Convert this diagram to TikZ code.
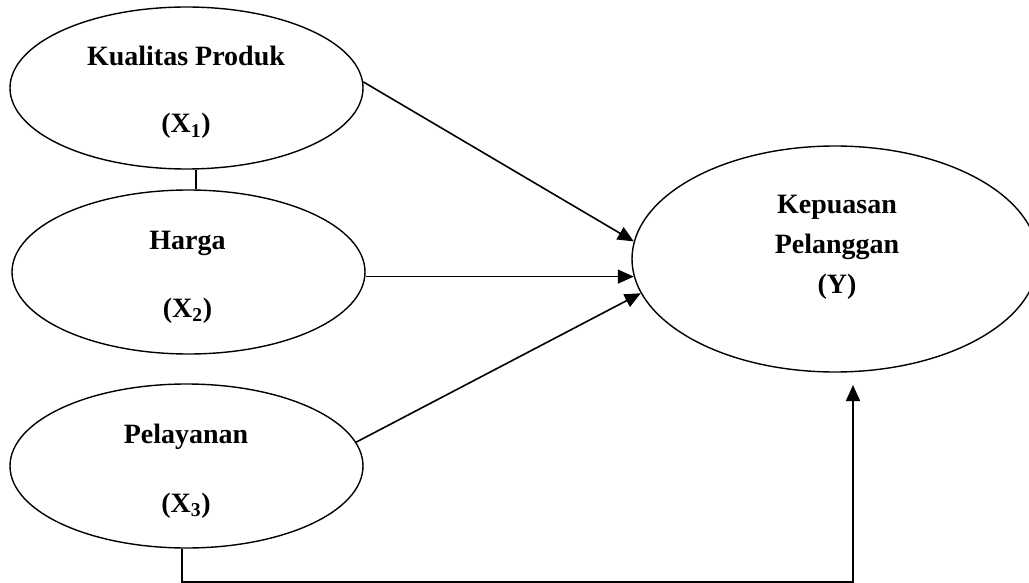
\documentclass[tikz,border=0pt]{standalone}
\usepackage{fontspec}
\setmainfont{Liberation Serif}
\usepackage{tikz}
\usetikzlibrary{arrows.meta,shapes.geometric}

\begin{document}
\begin{tikzpicture}[x=1pt,y=-1pt]
\tikzset{construct/.style={draw=black,line width=1.4pt,ellipse,inner sep=0pt},
  lbl/.style={anchor=base,inner sep=0pt,font=\fontsize{28}{34}\selectfont\bfseries},
  link/.style={draw=black,line width=1.6pt},
  effect/.style={link,-{Triangle[length=16pt,width=14pt]}}}
\useasboundingbox (0,0) rectangle (1029,583);
\node[construct,minimum width=353pt,minimum height=162pt] (x1) at (186.5,88) {};
\node[lbl] (x1a) at (186,66) {Kualitas Produk};
\node[lbl] (x1b) at (186,133) {(X\textsubscript{1})};
\node[construct,minimum width=353pt,minimum height=164pt] (x2) at (188.5,272) {};
\node[lbl] (x2a) at (187.5,249) {Harga};
\node[lbl] (x2b) at (187.5,317) {(X\textsubscript{2})};
\node[construct,minimum width=353pt,minimum height=164pt] (x3) at (186.5,466) {};
\node[lbl] (x3a) at (186,443) {Pelayanan};
\node[lbl] (x3b) at (186,512) {(X\textsubscript{3})};
\node[construct,minimum width=406pt,minimum height=226pt] (y) at (835,259) {};
\node[lbl] (ya) at (837,214) {Kepuasan};
\node[lbl] (yb) at (837,253) {Pelanggan};
\node[lbl] (yc) at (837,293) {(Y)};
\coordinate (ytip) at (853,385);
\draw[link] ([xshift=9.5pt]x1.south) -- ([xshift=9.5pt]x1.south |- x2.north);
\draw[effect] (x1.2) -- (y.175);
\draw[effect] (y.185 -| x2.east) -- (y.185);
\draw[effect] (x3.8) -- (y.190);
\draw[effect] ([xshift=-4.5pt]x3.south) -- ++(0,33) -| (ytip);
\end{tikzpicture}
\end{document}
